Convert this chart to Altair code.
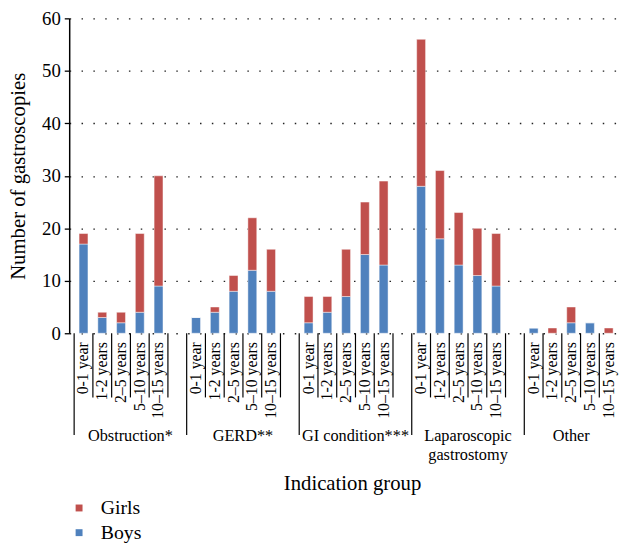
import altair as alt
import pandas as pd

# ---- data ----
groups = ["Obstruction*", "GERD**", "GI condition***", "Laparoscopic\ngastrostomy", "Other"]
ages = ["0-1 year", "1-2 years", "2\u20135 years", "5\u201310 years", "10\u201315 years"]
boys = [
    [17, 3, 2, 4, 9],
    [3, 4, 8, 12, 8],
    [2, 4, 7, 15, 13],
    [28, 18, 13, 11, 9],
    [1, 0, 2, 2, 0],
]
girls = [
    [2, 1, 2, 15, 21],
    [0, 1, 3, 10, 8],
    [5, 3, 9, 10, 16],
    [28, 13, 10, 9, 10],
    [0, 1, 3, 0, 1],
]
series = ["Girls", "Boys"]
colors = ["#C0504D", "#4F81BD"]
y_ticks = [0, 10, 20, 30, 40, 50, 60]
x_title = "Indication group"
y_title = "Number of gastroscopies"

SLOTS = 29  # 5 groups x (5 bars + 1 gap), last gap dropped
W, H = 561, 319
FONT = "Liberation Serif"

rows = []
for g, gname in enumerate(groups):
    for k, age in enumerate(ages):
        slot = 6 * g + k + 0.5
        rows.append(dict(slot=slot, sex="Boys", n=boys[g][k], ord=0, age=age, group=gname))
        rows.append(dict(slot=slot, sex="Girls", n=girls[g][k], ord=1, age=age, group=gname))
df = pd.DataFrame(rows)

age_df = pd.DataFrame(
    [dict(slot=6 * g + k + 0.5, age=age) for g in range(len(groups)) for k, age in enumerate(ages)]
)
short_b = [6 * g + k + 1 for g in range(len(groups)) for k in range(len(ages)) if 6 * g + k + 1 < SLOTS]
long_b = [6 * g for g in range(len(groups))]
group_x = [6 * g + 3 for g in range(len(groups) - 1)] + [6 * (len(groups) - 1) + 2.5]

xscale = alt.Scale(domain=[0, SLOTS], nice=False, zero=False)

bars = alt.Chart(df).mark_bar(size=9, stroke="white", strokeWidth=1, strokeOpacity=0.45).encode(
    x=alt.X(
        "slot:Q",
        scale=xscale,
        axis=alt.Axis(labels=False, ticks=False, grid=False, title=None,
                      domainColor="black", domainWidth=1.5),
    ),
    y=alt.Y(
        "n:Q",
        stack="zero",
        scale=alt.Scale(domain=[0, 60], nice=False),
        axis=alt.Axis(
            values=y_ticks,
            title=y_title,
            titleFont=FONT,
            titleFontSize=21,
            titleFontWeight="normal",
            titleColor="black",
            titlePadding=13,
            labelFont=FONT,
            labelFontSize=19,
            labelColor="black",
            labelPadding=4,
            tickSize=5,
            tickColor="black",
            tickWidth=1.3,
            domainColor="black",
            domainWidth=1.5,
            grid=True,
            gridColor="#222222",
            gridDash=[1.5, 10.5],
            gridWidth=1.3,
        ),
    ),
    color=alt.Color(
        "sex:N",
        scale=alt.Scale(domain=series, range=colors),
        legend=alt.Legend(
            title=None,
            orient="none",
            legendX=0,
            legendY=H + 167,
            symbolType="square",
            symbolSize=49,
            symbolStrokeWidth=0,
            labelFont=FONT,
            labelFontSize=20,
            labelColor="black",
            labelOffset=12,
            rowPadding=5,
            padding=0,
        ),
    ),
    order=alt.Order("ord:Q"),
)

age_text = alt.Chart(age_df).mark_text(
    font=FONT, fontSize=16, color="black", angle=270, align="right", baseline="middle"
).encode(
    x=alt.X("slot:Q", scale=xscale, axis=None),
    y=alt.value(H + 9),
    text="age:N",
)

short_rules = alt.Chart(pd.DataFrame({"b": short_b})).mark_rule(color="black", strokeWidth=1.2).encode(
    x=alt.X("b:Q", scale=xscale, axis=None),
    y=alt.value(H),
    y2=alt.value(H + 65),
)
long_rules = alt.Chart(pd.DataFrame({"b": long_b})).mark_rule(color="black", strokeWidth=1.2).encode(
    x=alt.X("b:Q", scale=xscale, axis=None),
    y=alt.value(H),
    y2=alt.value(H + 103),
)
group_text = alt.Chart(pd.DataFrame({"gx": group_x, "name": groups})).mark_text(
    font=FONT, fontSize=16.5, color="black", align="center", baseline="top", lineBreak="\n", lineHeight=19
).encode(
    x=alt.X("gx:Q", scale=xscale, axis=None),
    y=alt.value(H + 96),
    text="name:N",
)
title_text = alt.Chart(pd.DataFrame({"t": [x_title]})).mark_text(
    font=FONT, fontSize=21, color="black", align="center", baseline="middle"
).encode(
    x=alt.value(287),
    y=alt.value(H + 153),
    text="t:N",
)

chart = (
    alt.layer(bars, age_text, short_rules, long_rules, group_text, title_text)
    .properties(
        width=W,
        height=H,
        autosize=alt.AutoSizeParams(type="none"),
        padding={"left": 62, "top": 7, "right": 0, "bottom": 210},
        background="white",
    )
    .configure(font=FONT)
    .configure_axis(labelFont=FONT, titleFont=FONT)
    .configure_legend(labelFont=FONT)
    .configure_view(stroke=None)
)

chart.save("out.html", embed_options={"renderer": "svg", "actions": False})
